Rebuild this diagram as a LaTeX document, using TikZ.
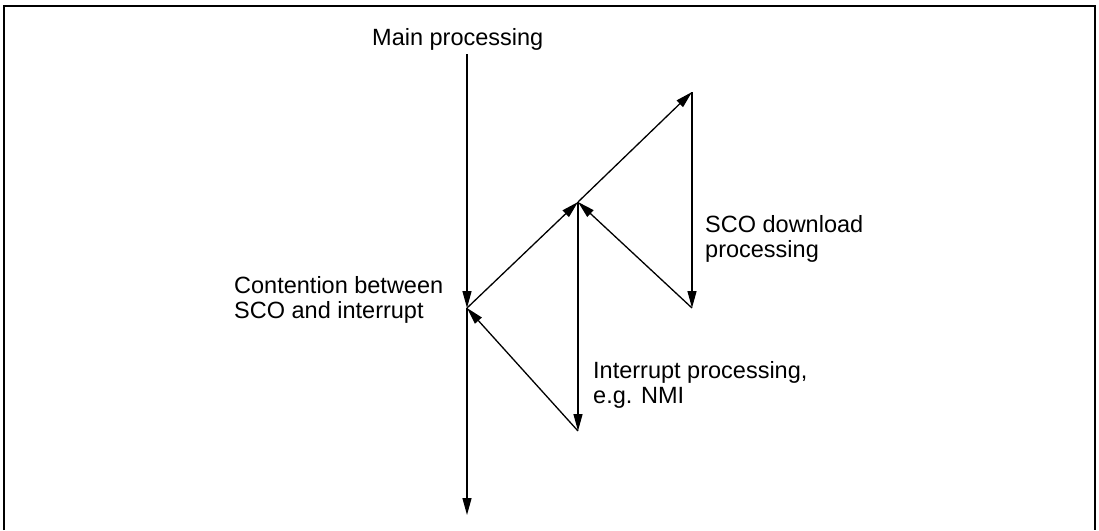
\documentclass[tikz,border=0pt]{standalone}
\usepackage{fontspec}
\setmainfont{Liberation Sans}
\usetikzlibrary{arrows.meta}
\begin{document}
\begin{tikzpicture}[x=1pt,y=-1pt,
  flow/.style={line width=1.3pt,-{Triangle[length=17pt,width=9pt]}},
  lbl/.style={inner sep=0pt,align=left,font=\fontsize{23.5}{25.5}\selectfont}]
\useasboundingbox (0,0) rectangle (1099,530);
\draw[line width=2pt] (3.5,530) -- (3.5,6) -- (1095,6) -- (1095,530);
\coordinate (top) at (467,54);
\coordinate (A) at (467,308);
\coordinate (B) at (578,202);
\coordinate (C) at (692,92);
\coordinate (D) at (692,308);
\coordinate (E) at (578,431);
\coordinate (end) at (467,515);
\draw[flow] (top) -- (A);
\draw[flow] (A) -- (end);
\draw[flow] (A) -- (B);
\draw[flow] (B) -- (C);
\draw[flow] (C) -- (D);
\draw[flow] (D) -- (B);
\draw[flow] (B) -- (E);
\draw[flow] (E) -- (A);
\node[lbl,anchor=base west] (main) at (372,45) {Main processing};
\node[lbl,anchor=base west] (cont) at (234,318.5) {Contention between\\SCO and interrupt};
\node[lbl,anchor=base west] (sco) at (705,257.5) {SCO download\\processing};
\node[lbl,anchor=base west] (intr) at (593,403.5) {Interrupt processing,\\e.g. NMI};
\end{tikzpicture}
\end{document}
